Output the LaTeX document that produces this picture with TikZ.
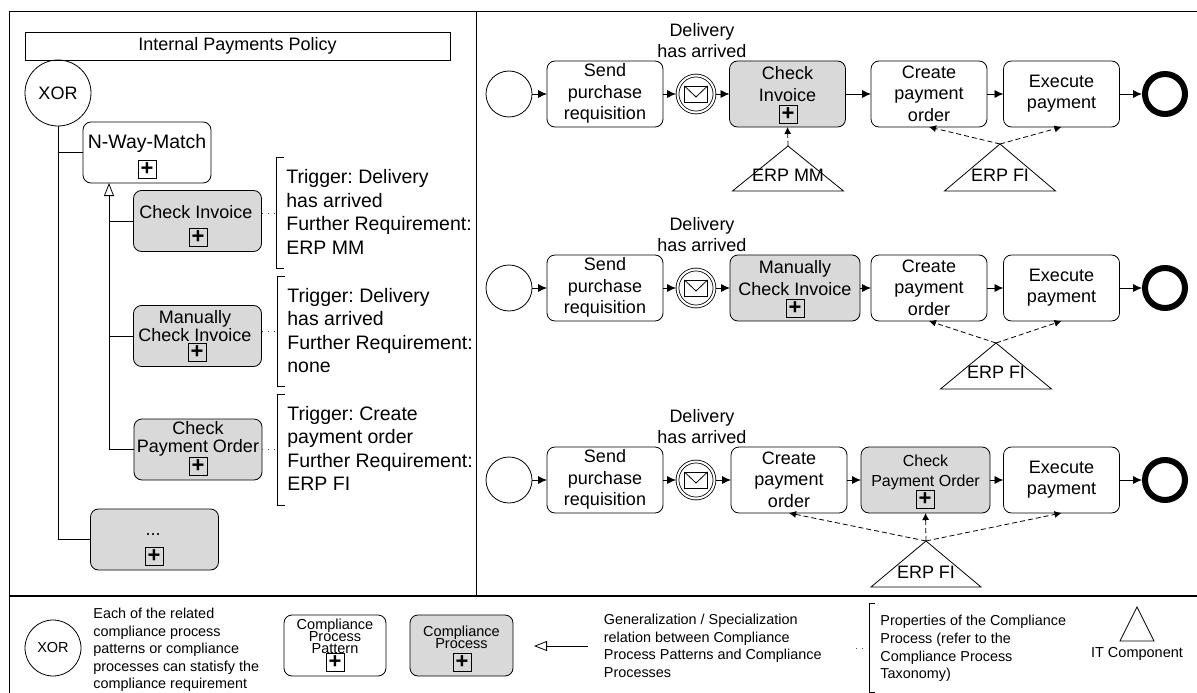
\documentclass[tikz,border=0pt]{standalone}
\usepackage{fontspec}
\setmainfont{Liberation Sans}
\usetikzlibrary{arrows.meta,shapes.geometric}
\definecolor{taskgrey}{RGB}{217,217,217}
\def\envelope(#1){\draw (#1)+(-11.5,-8) rectangle +(11.5,8); \draw (#1)+(-11.5,-8) -- +(0,3) -- +(11.5,-8);}
\def\tightlines{\lineskiplimit-20pt\relax}
\frenchspacing
\tikzset{
	lbl/.style={inner sep=0, align=center, font=\fontsize{18}{21.5}\selectfont},
	lbltight/.style={inner sep=0, align=center, font=\fontsize{18}{18}\selectfont, execute at begin node=\tightlines},
	lblprops/.style={inner sep=0, align=left, anchor=west, font=\fontsize{19.5}{23.5}\selectfont},
	lblnote/.style={inner sep=0, align=left, anchor=west, font=\fontsize{14.4}{17.6}\selectfont},
	lbllegend/.style={inner sep=0, align=center, font=\fontsize{14.5}{11.7}\selectfont, execute at begin node=\tightlines},
	pattern/.style={draw, rounded corners=8, inner sep=0, outer sep=0, minimum height=61, minimum width=128},
	compl/.style={pattern, fill=taskgrey},
	task/.style={draw, rounded corners=8, inner sep=0, outer sep=0, minimum height=66, minimum width=116},
	taskgreyed/.style={task, fill=taskgrey},
	plusbox/.style={draw, inner sep=0, outer sep=0, minimum size=18, line width=1pt, font=\fontsize{22}{22}\selectfont\bfseries},
	startevt/.style={draw, circle, inner sep=0, outer sep=0, minimum size=46},
	msgevt/.style={draw, circle, inner sep=0, outer sep=1.5pt, minimum size=37, double, double distance=2pt},
	endevt/.style={draw, circle, inner sep=0, outer sep=3pt, minimum size=40, line width=6pt},
	xorgate/.style={draw, circle, inner sep=0, outer sep=0, font=\fontsize{18}{18}\selectfont},
	itcomp/.style={draw, isosceles triangle, isosceles triangle stretches, shape border rotate=90, inner sep=0, outer sep=0, anchor=apex},
	flow/.style={-{Latex[length=9pt,width=8pt]}},
	uses/.style={dash pattern=on 5pt off 3pt, -{Latex[length=7pt,width=7pt]}},
	gener/.style={-{Triangle[open,length=13pt,width=10pt]}},
	assoc/.style={dash pattern=on 1pt off 5pt, black!70},
}
\begin{document}
\begin{tikzpicture}[x=1pt, y=-1pt, line width=0.8pt]
	\useasboundingbox (0,0) rectangle (1197,693);
	%%%%% FRAME %%%%%
	\draw (9,693) -- (9,11) -- (1197,11);
	\draw (476,11) -- (476,596);
	\draw[line width=2pt] (9,596) -- (1197,596);

	%%%%% POLICY %%%%%
	\node[draw, inner sep=0, minimum width=425, minimum height=28, font=\fontsize{18}{18}\selectfont] (policy) at (237.5,46) {Internal Payments Policy};
	\node[xorgate, minimum size=66] (xor) at (58,93) {XOR};

	\node[pattern] (nway) at (147,152.5) {};
	\node[lbl, font=\fontsize{19.5}{21}\selectfont] (nwayt) at (147,143) {N-Way-Match};
	\node[plusbox] (nwayp) at (147,169) {+};

	\node[compl] (inv) at (197.5,221) {};
	\node[lbltight] (invt) at (196,212) {Check Invoice};
	\node[plusbox] (invp) at (198,237) {+};

	\node[compl] (man) at (197.5,336) {};
	\node[lbltight] (mant) at (195,326) {Manually\\Check Invoice};
	\node[plusbox] (manp) at (197,352) {+};

	\node[compl] (pay) at (198,449.5) {};
	\node[lbltight] (payt) at (198,439) {Check\\Payment Order};
	\node[plusbox] (payp) at (198,466) {+};

	\node[compl] (more) at (154.5,539.5) {};
	\node[lbl] (moret) at (153,535) {...};
	\node[plusbox] (morep) at (154,556) {+};

	\coordinate (gen) at (109,183);
	\draw (xor.south) |- (more.west);
	\draw (xor.south |- nway.west) -- (nway.west);
	\draw[gener] (pay.west) -| (gen);
	\draw (inv.west -| gen) -- (inv.west);
	\draw (man.west -| gen) -- (man.west);

	\draw (284,157) -- (276,157) -- (276,268) -- (284,268);
	\draw (285,276) -- (277,276) -- (277,386) -- (285,386);
	\draw (285,394) -- (277,394) -- (277,505) -- (285,505);
	\coordinate (brka) at (276,213);
	\coordinate (brkb) at (277,331);
	\coordinate (brkc) at (277,449);
	\draw[assoc] (inv.east |- brka) -- (brka);
	\draw[assoc] (man.east |- brkb) -- (brkb);
	\draw[assoc] (pay.east |- brkc) -- (brkc);

	\node[lblprops] (propa) at (286,212) {Trigger: Delivery\\has arrived\\Further Requirement:\\ERP MM};
	\node[lblprops] (propb) at (287,330.5) {Trigger: Delivery\\has arrived\\Further Requirement:\\none};
	\node[lblprops] (propc) at (287,448.5) {Trigger: Create\\payment order\\Further Requirement:\\ERP FI};

	%%%%% ROW ONE %%%%%
	\node[lbl] (arra) at (702,40.5) {Delivery\\has arrived};
	\node[startevt] (starta) at (509,94) {};
	\node[task] (senda) at (605,94) {};
	\node[lbl] (sendat) at (605,93.5) {Send\\purchase\\requisition};
	\node[msgevt] (msga) at (696,94) {};
	\envelope(msga.center);
	\node[taskgreyed] (cinva) at (787.5,94) {};
	\node[lbl] (cinvat) at (787.5,84) {Check\\Invoice};
	\node[plusbox] (cinvap) at (788,114) {+};
	\node[task] (creaa) at (929,94) {};
	\node[lbl] (creaat) at (929,93.5) {Create\\payment\\order};
	\node[task] (exea) at (1061.5,94) {};
	\node[lbl] (exeat) at (1061.5,93.5) {Execute\\payment};
	\node[endevt] (enda) at (1165,94) {};
	\draw[flow] (starta) -- (senda);
	\draw[flow] (senda) -- (msga);
	\draw[flow] (msga) -- (cinva);
	\draw[flow] (cinva) -- (creaa);
	\draw[flow] (creaa) -- (exea);
	\draw[flow] (exea) -- (enda);
	\node[itcomp, minimum height=45, minimum width=111] (erpa) at (788,146) {};
	\node[lbl] (erpat) at (788,175) {ERP MM};
	\node[itcomp, minimum height=47, minimum width=111] (erpb) at (1000,144) {};
	\node[lbl] (erpbt) at (1000,175) {ERP FI};
	\draw[uses] (erpa.apex) -- (cinva.south);
	\draw[uses] (erpb.apex) -- (creaa.south);
	\draw[uses] (erpb.apex) -- (exea.south);

	%%%%% ROW TWO %%%%%
	\node[lbl] (arrb) at (702,234.5) {Delivery\\has arrived};
	\node[startevt] (startb) at (509,288) {};
	\node[task] (sendb) at (605,288) {};
	\node[lbl] (sendbt) at (605,287.5) {Send\\purchase\\requisition};
	\node[msgevt] (msgb) at (696,288) {};
	\envelope(msgb.center);
	\node[taskgreyed, minimum width=130] (cinvb) at (795,288) {};
	\node[lbl] (cinvbt) at (795,278) {Manually\\Check Invoice};
	\node[plusbox] (cinvbp) at (795,308) {+};
	\node[task] (creab) at (929,288) {};
	\node[lbl] (creabt) at (929,287.5) {Create\\payment\\order};
	\node[task] (exeb) at (1061.5,288) {};
	\node[lbl] (exebt) at (1061.5,287.5) {Execute\\payment};
	\node[endevt] (endb) at (1165,288) {};
	\draw[flow] (startb) -- (sendb);
	\draw[flow] (sendb) -- (msgb);
	\draw[flow] (msgb) -- (cinvb);
	\draw[flow] (cinvb) -- (creab);
	\draw[flow] (creab) -- (exeb);
	\draw[flow] (exeb) -- (endb);
	\node[itcomp, minimum height=46, minimum width=111] (erpc) at (996,343) {};
	\node[lbl] (erpct) at (996,372) {ERP FI};
	\draw[uses] (erpc.apex) -- (creab.south);
	\draw[uses] (erpc.apex) -- (exeb.south);

	%%%%% ROW THREE %%%%%
	\node[lbl] (arrc) at (702,426.5) {Delivery\\has arrived};
	\node[startevt] (startc) at (509,480) {};
	\node[task] (sendc) at (605,480) {};
	\node[lbl] (sendct) at (605,479.5) {Send\\purchase\\requisition};
	\node[msgevt] (msgc) at (696,480) {};
	\envelope(msgc.center);
	\node[task] (creac) at (789,480) {};
	\node[lbl] (creact) at (789,479.5) {Create\\payment\\order};
	\node[taskgreyed, minimum width=129] (cpayc) at (925.5,480) {};
	\node[lbl, font=\fontsize{16}{20}\selectfont] (cpayct) at (925.5,472) {Check\\Payment Order};
	\node[plusbox] (cpaycp) at (925,499) {+};
	\node[task] (exec) at (1061.5,480) {};
	\node[lbl] (exect) at (1061.5,479.5) {Execute\\payment};
	\node[endevt] (endc) at (1165,480) {};
	\draw[flow] (startc) -- (sendc);
	\draw[flow] (sendc) -- (msgc);
	\draw[flow] (msgc) -- (creac);
	\draw[flow] (creac) -- (cpayc);
	\draw[flow] (cpayc) -- (exec);
	\draw[flow] (exec) -- (endc);
	\node[itcomp, minimum height=46, minimum width=110] (erpd) at (926,541) {};
	\node[lbl] (erpdt) at (926,572) {ERP FI};
	\draw[uses] (erpd.apex) -- (creac.south);
	\draw[uses] (erpd.apex) -- (cpayc.south);
	\draw[uses] (erpd.apex) -- (exec.south);

	%%%%% LEGEND %%%%%
	\node[xorgate, minimum size=56, font=\fontsize{14.5}{14.5}\selectfont] (lxor) at (53,648) {XOR};
	\node[lblnote] (lxort) at (93,650) {Each of the related\\compliance process\\patterns or compliance\\processes can statisfy the\\compliance requirement};
	\node[pattern, minimum width=102, minimum height=61] (lpat) at (335,645.5) {};
	\node[lbllegend] (lpatt) at (335,636.5) {Compliance\\Process\\Pattern};
	\node[plusbox] (lpatp) at (335,662) {+};
	\node[compl, minimum width=103, minimum height=61] (lcom) at (461.5,645.5) {};
	\node[lbllegend] (lcomt) at (461.5,637) {Compliance\\Process};
	\node[plusbox] (lcomp) at (462,662) {+};
	\coordinate (lgena) at (588,646);
	\coordinate (lgenb) at (534,646);
	\draw[gener] (lgena) -- (lgenb);
	\node[lblnote] (lgent) at (603.5,646) {Generalization / Specialization\\relation between Compliance\\Process Patterns and Compliance\\Processes};
	\coordinate (lbrka) at (856,648);
	\coordinate (lbrkb) at (868,648);
	\draw[assoc] (lbrka) -- (lbrkb);
	\draw (875,603) -- (869,603) -- (869,692) -- (875,692);
	\node[lblnote] (lbrkt) at (880,648.5) {Properties of the Compliance\\Process (refer to the\\Compliance Process\\Taxonomy)};
	\node[itcomp, minimum height=34, minimum width=34] (lit) at (1137,607) {};
	\node[lbl, font=\fontsize{14.5}{17}\selectfont] (litt) at (1137,654) {IT Component};
\end{tikzpicture}
\end{document}
